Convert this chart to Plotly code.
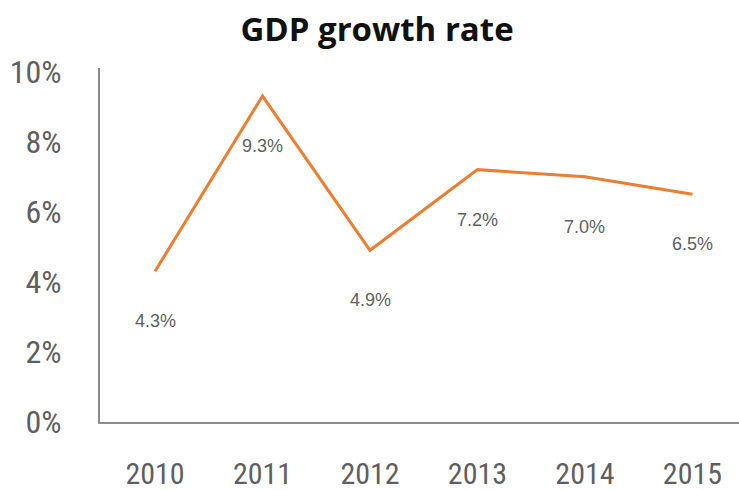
import plotly.graph_objects as go

years = ["2010", "2011", "2012", "2013", "2014", "2015"]
growth = [4.3, 9.3, 4.9, 7.2, 7.0, 6.5]
labels = ["4.3%", "9.3%", "4.9%", "7.2%", "7.0%", "6.5%"]
y_ticks = [0, 2, 4, 6, 8, 10]
y_ticktext = ["0%", "2%", "4%", "6%", "8%", "10%"]

FONT = "Liberation Sans Narrow, Roboto Condensed, Arial Narrow, Liberation Sans, sans-serif"
LABEL_FONT = "Liberation Sans, Arial, sans-serif"
GRAY = "#5f5f5f"

fig = go.Figure()
fig.add_trace(go.Scatter(
    x=years, y=growth, mode="lines",
    line=dict(color="#ED7D31", width=3),
    hoverinfo="skip", showlegend=False,
))

annotations = []
for i, (yv, t) in enumerate(zip(growth, labels)):
    annotations.append(dict(x=i, y=yv, xref="x", yref="y", text=t, showarrow=False,
                            yshift=-50, yanchor="middle", xanchor="center",
                            font=dict(family=LABEL_FONT, size=18, color=GRAY)))

fig.update_layout(
    width=739, height=490,
    margin=dict(l=100, r=0, t=68, b=68, autoexpand=False),
    paper_bgcolor="white", plot_bgcolor="white",
    annotations=annotations,
    title=dict(text="<b>GDP growth rate</b>", x=377/739, xanchor="center",
               xref="container", yref="container", y=1 - 29/490, yanchor="middle",
               font=dict(family="Open Sans, sans-serif", size=33, color="#111111")),
    xaxis=dict(type="category", range=[-0.512, 5.433], showgrid=False,
               showline=True, linecolor="#8c8c8c", linewidth=2,
               ticks="", ticklabelstandoff=24, automargin=False,
               tickfont=dict(family=FONT, size=30, color=GRAY), fixedrange=True),
    yaxis=dict(range=[0, 10.1], tickvals=y_ticks, ticktext=y_ticktext,
               showgrid=False, zeroline=False, automargin=False,
               showline=True, linecolor="#8c8c8c", linewidth=2,
               ticks="", ticklabelstandoff=30,
               tickfont=dict(family=FONT, size=32, color=GRAY), fixedrange=True),
)

fig.write_html("out.html", config={"displayModeBar": False},
               post_script="document.body.style.margin='0';")
